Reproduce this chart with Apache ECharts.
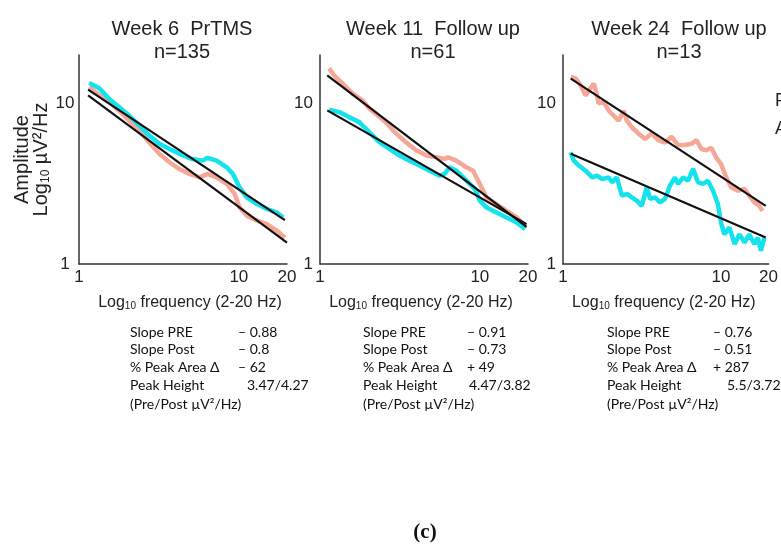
<!DOCTYPE html>
<html>
<head>
<meta charset="utf-8">
<script src="https://cdn.jsdelivr.net/npm/echarts@6/dist/echarts.min.js"></script>
<style>
  html, body { margin: 0; padding: 0; background: #fff; }
  #chart { width: 781px; height: 545px; }
</style>
</head>
<body>
<div id="chart"></div>
<script>
// titles of the three panels
const panelTitles = ['Week 6  PrTMS\nn=135', 'Week 11  Follow up\nn=61', 'Week 24  Follow up\nn=13']

// tick labels
const xTicks = [1, 10, 20]
const yTicks = [1, 10]

// spectra [frequency Hz, amplitude µV²/Hz], salmon = pre, cyan = post
const w6Pre = [[1.16,12.65],[1.34,11.2],[1.54,10.2],[1.78,9.0],[2.06,7.8],[2.38,6.8],[2.75,5.7],[3.18,4.85],[3.68,4.3],[4.25,3.9],[4.91,3.64],[5.68,3.46],[6.38,3.64],[7.26,3.46],[8.39,3.15],[9.42,2.73],[10.1,2.25],[11.2,2.0],[13.0,1.86],[15.0,1.77],[17.3,1.61],[19.4,1.46]]
const w6Post = [[1.16,13.4],[1.34,12.4],[1.54,10.7],[1.78,9.5],[2.06,8.4],[2.38,7.3],[2.75,6.3],[3.18,5.6],[3.68,5.2],[4.25,4.85],[5.13,4.5],[5.93,4.4],[6.38,4.58],[7.26,4.4],[8.39,4.0],[9.16,3.64],[10.1,3.0],[11.2,2.6],[13.0,2.36],[15.0,2.2],[17.3,2.09],[18.9,1.95]]
const w11Pre = [[1.14,16.5],[1.22,15.0],[1.38,13.3],[1.60,11.5],[1.85,10.4],[2.03,9.3],[2.24,8.6],[2.59,7.6],[2.99,6.5],[3.46,5.7],[4.0,5.1],[4.62,4.73],[5.34,4.62],[6.02,4.51],[6.31,4.62],[7.13,4.4],[8.24,4.0],[9.07,3.81],[9.99,3.15],[11.0,2.6],[12.7,2.36],[14.7,2.14],[17.0,1.95],[19.2,1.73]]
const w11Post = [[1.14,9.13],[1.32,8.82],[1.52,8.21],[1.76,7.64],[2.03,6.62],[2.35,5.73],[2.72,5.21],[3.14,4.73],[3.63,4.40],[4.19,4.10],[4.84,3.81],[5.6,3.55],[6.02,3.64],[6.47,4.0],[7.13,3.81],[8.24,3.30],[9.29,2.93],[9.99,2.48],[11.0,2.25],[12.7,2.09],[14.7,1.95],[17.0,1.81],[19.2,1.65]]
const w24Pre = [[1.12,14.6],[1.20,14.3],[1.29,13.0],[1.39,11.2],[1.49,12.4],[1.57,13.3],[1.61,12.1],[1.68,10.0],[1.81,10.2],[1.95,9.0],[2.09,8.4],[2.25,7.8],[2.42,9.0],[2.54,7.8],[2.73,7.1],[3.0,6.5],[3.31,6.0],[3.64,6.5],[4.01,5.9],[4.42,5.7],[4.86,6.2],[5.36,5.5],[5.9,5.5],[6.5,5.6],[6.99,5.9],[7.51,5.2],[8.07,5.1],[8.68,5.3],[9.33,4.6],[10.0,4.2],[10.8,3.46],[11.6,3.0],[12.8,2.86],[14.1,2.93],[15.1,2.66],[16.3,2.42],[17.5,2.3],[18.3,2.14]]
const w24Post = [[1.12,4.96],[1.17,4.4],[1.26,4.1],[1.39,3.81],[1.53,3.46],[1.64,3.55],[1.77,3.38],[1.95,3.46],[2.04,3.22],[2.19,3.46],[2.36,2.66],[2.54,2.73],[2.73,2.6],[2.93,2.48],[3.15,2.3],[3.39,3.0],[3.56,2.54],[3.83,2.6],[4.11,2.42],[4.42,2.54],[4.75,3.07],[5.11,3.46],[5.36,3.15],[5.76,3.46],[6.19,3.3],[6.66,3.91],[7.16,3.22],[7.69,3.15],[8.27,3.3],[8.9,2.86],[9.56,2.36],[10.0,1.81],[10.5,1.53],[11.3,1.69],[12.2,1.33],[13.1,1.53],[14.1,1.36],[15.1,1.53],[16.3,1.33],[17.1,1.46],[17.9,1.21],[18.8,1.46]]

// fitted 1/f lines (end points)
const w6PreFit = [[1.14,11.22],[20,1.36]]
const w6PostFit = [[1.14,12.18],[19.4,1.875]]
const w11PreFit = [[1.11,14.96],[19.6,1.70]]
const w11PostFit = [[1.11,9.04],[19.6,1.77]]
const w24PreFit = [[1.12,14.27],[19.2,2.30]]
const w24PostFit = [[1.12,4.85],[19.2,1.46]]

// stats under each panel
const statNames = ['Slope PRE', 'Slope Post', '% Peak Area Δ', 'Peak Height', '(Pre/Post µV²/Hz)']
const slopePre = ['– 0.88', '– 0.91', '– 0.76']
const slopePost = ['– 0.8', '– 0.73', '– 0.51']
const peakArea = ['– 62', '+ 49', '+ 287']
const peakHeight = ['3.47/4.27', '4.47/3.82', '5.5/3.72']

const legendNames = ['Pre', 'After']

const sans = '"Liberation Sans", Arial, sans-serif'
const calib = 'Lato, "Open Sans", sans-serif'
const PRE_COLOR = '#f7a797'
const POST_COLOR = '#14e3ee'

const chart = echarts.init(document.getElementById('chart'))

const pre = [w6Pre, w11Pre, w24Pre]
const post = [w6Post, w11Post, w24Post]
const preFit = [w6PreFit, w11PreFit, w24PreFit]
const postFit = [w6PostFit, w11PostFit, w24PostFit]

const gridLeft = [79, 320, 563]
const titleX = [177, 428, 674]
const nameShift = [14, -6, -4]
const labelX = [130, 363, 607]
const valueX = [238, 467, 713]
const heightX = [247, 469, 727]
const rowY = [332, 349.5, 367, 385.5, 404]

let grids = [], xAxes = [], yAxes = [], series = [], titles = [], graphics = []

for (let i = 0; i < 3; i++) {
  grids.push({ left: gridLeft[i], top: 55, width: 208, height: 209 })
  titles.push({
    text: panelTitles[i], left: titleX[i], top: 13, textAlign: 'center',
    textStyle: { fontSize: 20, lineHeight: 23, fontWeight: 'normal', color: '#222', fontFamily: sans }
  })
  xAxes.push({
    type: 'log', logBase: 10, gridIndex: i, min: 1, max: 20,
    axisLine: { lineStyle: { color: '#333', width: 1.5 } },
    axisTick: { show: false }, splitLine: { show: false },
    axisLabel: { customValues: xTicks, fontSize: 17, color: '#222', margin: 5, fontFamily: sans },
    name: 'Log{sub|10} frequency (2-20 Hz)', nameLocation: 'middle', nameGap: 30,
    nameTextStyle: {
      fontSize: 16, color: '#222', fontFamily: sans, padding: nameShift[i] > 0 ? [0, 0, 0, nameShift[i]] : [0, -nameShift[i], 0, 0],
      rich: { sub: { fontSize: 10, color: '#222', fontFamily: sans, padding: [7, 0, 0, 0] } }
    }
  })
  yAxes.push({
    type: 'log', logBase: 10, gridIndex: i, min: 1, max: 20,
    axisLine: { show: true, lineStyle: { color: '#333', width: 1.5 } },
    axisTick: { show: false }, splitLine: { show: false },
    axisLabel: { customValues: yTicks, fontSize: 17, color: '#222', fontFamily: sans,
      align: i === 0 ? 'center' : 'right', margin: i === 0 ? 14 : 7 },
    name: i === 0 ? 'Amplitude\nLog{sub|10} µV²/Hz' : '',
    nameLocation: 'middle', nameRotate: 90, nameGap: 27,
    nameTextStyle: {
      fontSize: 20, lineHeight: 19, color: '#222', fontFamily: sans,
      rich: { sub: { fontSize: 12, color: '#222', fontFamily: sans, padding: [8, 0, 0, 0] } }
    }
  })
  const lineBase = { type: 'line', xAxisIndex: i, yAxisIndex: i, showSymbol: false, symbol: 'none', smooth: false, silent: true }
  series.push(
    Object.assign({}, lineBase, { name: 'pre', data: pre[i], lineStyle: { color: PRE_COLOR, width: 4.5 } }),
    Object.assign({}, lineBase, { name: 'post', data: post[i], lineStyle: { color: POST_COLOR, width: 4.5 } }),
    Object.assign({}, lineBase, { data: preFit[i], lineStyle: { color: '#111', width: 2.2 } }),
    Object.assign({}, lineBase, { data: postFit[i], lineStyle: { color: '#111', width: 2.2 } })
  )

  // stats block
  const vals = [slopePre[i], slopePost[i], peakArea[i], peakHeight[i]]
  for (let r = 0; r < statNames.length; r++) {
    graphics.push({ type: 'text', x: labelX[i], y: rowY[r],
      style: { text: statNames[r], fontSize: 14, fontFamily: calib, fill: '#111', verticalAlign: 'middle', textVerticalAlign: 'middle' } })
    if (r < 4) {
      graphics.push({ type: 'text', x: r === 3 ? heightX[i] : valueX[i], y: rowY[r],
        style: { text: vals[r], fontSize: 14, fontFamily: calib, fill: '#111', verticalAlign: 'middle', textVerticalAlign: 'middle' } })
    }
  }
}

// legend text cut off at the right edge
graphics.push(
  { type: 'text', x: 775, y: 101, style: { text: legendNames[0], fontSize: 18, fontFamily: sans, fill: '#222', verticalAlign: 'middle', textVerticalAlign: 'middle' } },
  { type: 'text', x: 775, y: 129, style: { text: legendNames[1], fontSize: 18, fontFamily: sans, fill: '#222', verticalAlign: 'middle', textVerticalAlign: 'middle' } },
  { type: 'text', x: 425, y: 533, style: { text: '(c)', fontSize: 21, fontWeight: 'bold', fontFamily: '"Liberation Serif", serif', fill: '#111', align: 'center', textAlign: 'center', verticalAlign: 'middle', textVerticalAlign: 'middle' } }
)

const option = {
  backgroundColor: '#fff',
  animation: false,
  title: titles,
  grid: grids,
  xAxis: xAxes,
  yAxis: yAxes,
  series: series,
  graphic: graphics
}
chart.setOption(option)
window.addEventListener('resize', function () {
  chart.resize()
})
</script>
</body>
</html>
